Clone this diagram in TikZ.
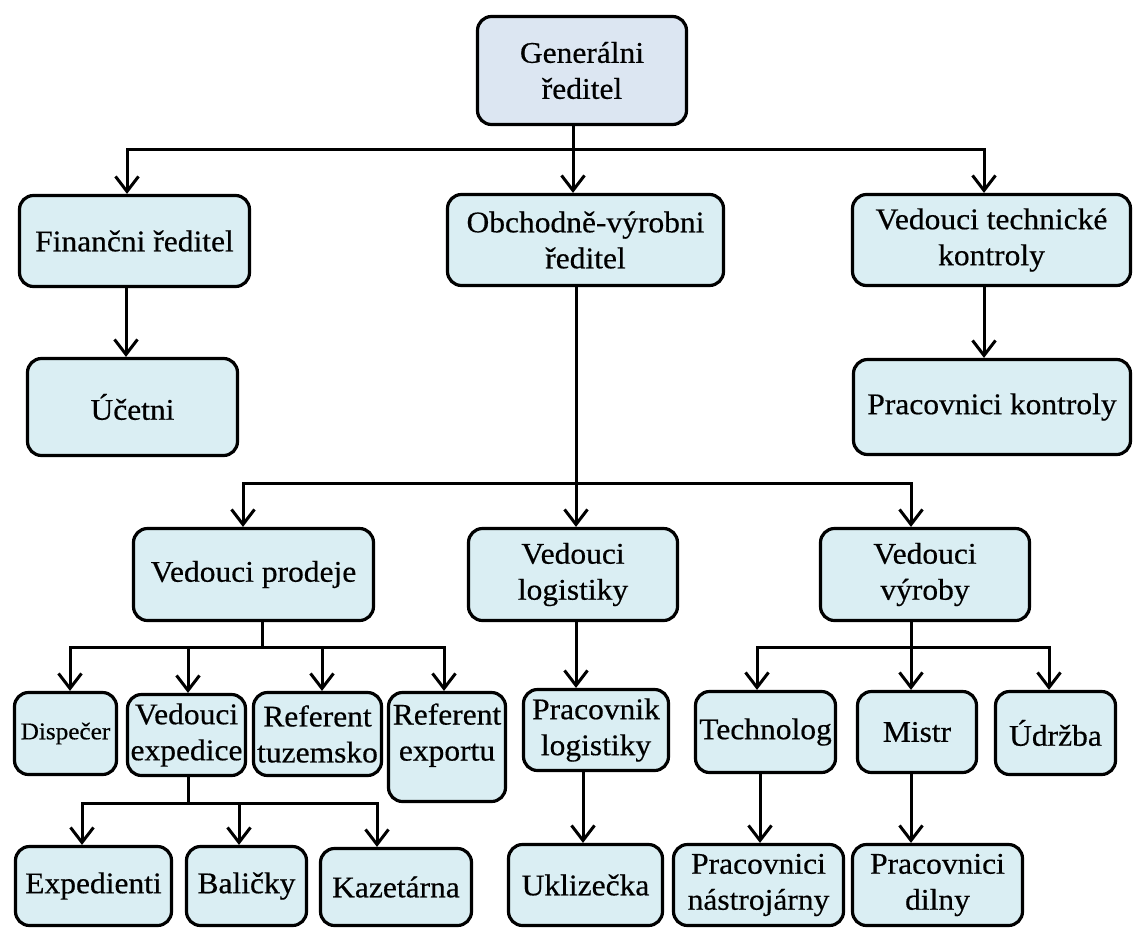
\documentclass[tikz,border=0pt]{standalone}
\usepackage{fontspec}
\setmainfont[FakeStretch=1.05,FakeBold=0.5]{Liberation Serif}
\usetikzlibrary{arrows.meta}
\definecolor{boxfill}{RGB}{218,238,243}
\definecolor{genfill}{RGB}{220,230,242}
\begin{document}
\begin{tikzpicture}[x=1pt,y=-1pt,
  box/.style={draw=black, line width=3.2pt, rounded corners=14pt, fill=boxfill,
    align=center, inner sep=1pt, font=\fontsize{30}{36}\selectfont, text=black},
  arr/.style={line width=3pt, -{Straight Barb[length=15pt,width=23pt]}},
  ln/.style={line width=3pt}]
\useasboundingbox (0,0) rectangle (1134,929);

% level 0
\node[box, fill=genfill, minimum width=209, minimum height=108] (gen) at (582,70.5) {Generálni\\ředitel};
% level 1
\node[box, minimum width=230, minimum height=91] (fin) at (134.5,241) {Finančni ředitel};
\node[box, minimum width=276, minimum height=91] (obch) at (585.5,240) {Obchodně-výrobni\\ředitel};
\node[box, minimum width=278, minimum height=91] (vtk) at (991.5,240) {Vedouci technické\\kontroly};
% level 2
\node[box, minimum width=210, minimum height=97] (uc) at (132.5,407) {Účetni};
\node[box, minimum width=277, minimum height=95] (pk) at (992,407) {Pracovnici kontroly};
% level 3
\node[box, minimum width=240, minimum height=92] (vp) at (253.5,574.5) {Vedouci prodeje};
\node[box, minimum width=209, minimum height=92] (vl) at (573,574.5) {Vedouci\\logistiky};
\node[box, minimum width=209, minimum height=92] (vv) at (925,574.5) {Vedouci\\výroby};
% level 4
\node[box, font=\fontsize{24}{29}\selectfont, minimum width=102, minimum height=82] (dis) at (65.5,733.5) {Dispečer};
\node[box, minimum width=118, minimum height=81] (ve) at (186.5,735) {Vedouci\\expedice};
\node[box, minimum width=128, minimum height=83] (rt) at (317.5,734) {Referent\\tuzemsko};
\node[box, minimum width=117, minimum height=109, text depth=30pt] (re) at (447,747) {Referent\\exportu};
\node[box, minimum width=145, minimum height=81] (plog) at (596,730) {Pracovnik\\logistiky};
\node[box, minimum width=140, minimum height=81] (tech) at (765.5,732) {Technolog};
\node[box, minimum width=119, minimum height=81] (mistr) at (917,732) {Mistr};
\node[box, minimum width=120, minimum height=83] (udr) at (1055.5,733) {Údržba};
% level 5
\node[box, minimum width=156, minimum height=79] (exp) at (93.5,886) {Expedienti};
\node[box, minimum width=120, minimum height=79] (bal) at (246.5,886) {Baličky};
\node[box, minimum width=151, minimum height=77] (kaz) at (396,887) {Kazetárna};
\node[box, minimum width=154, minimum height=81] (ukl) at (585.5,885) {Uklizečka};
\node[box, minimum width=170, minimum height=81] (pn) at (758.5,885) {Pracovnici\\nástrojárny};
\node[box, minimum width=170, minimum height=81] (pd) at (937.5,885) {Pracovnici\\dilny};

% connectors
\coordinate (t1) at (573,149);
\draw[ln] (gen.south -| t1) -- (t1);
\draw[arr] (t1) -- (obch.north -| t1);
\draw[arr] (t1) -| ([xshift=-7.5]fin.north);
\draw[arr] (t1) -| ([xshift=-7.5]vtk.north);
\draw[arr] ([xshift=-8.5]fin.south) -- ([xshift=-6.5]uc.north);
\draw[arr] ([xshift=-7.5]vtk.south) -- ([xshift=-8]pk.north);

\coordinate (t2) at (576,483);
\draw[ln] (obch.south -| t2) -- (t2);
\draw[arr] (t2) -- (vl.north -| t2);
\draw[arr] (t2) -| ([xshift=-10.5]vp.north);
\draw[arr] (t2) -| ([xshift=-14]vv.north);

\coordinate (t3) at (262,647);
\draw[ln] (vp.south -| t3) -- (t3);
\draw[arr] (t3) -| ([xshift=4.5]dis.north);
\draw[arr] (t3) -| ([xshift=1.5]ve.north);
\draw[arr] (t3) -| ([xshift=4.5]rt.north);
\draw[arr] (t3) -| ([xshift=-3]re.north);

\coordinate (t4) at (188,803);
\draw[ln] (ve.south -| t4) -- (t4);
\draw[arr] (t4) -| ([xshift=-11.5]exp.north);
\draw[arr] (t4) -| ([xshift=-7.5]bal.north);
\draw[arr] (t4) -| ([xshift=-19]kaz.north);

\draw[arr] (vl.south -| t2) -- (plog.north -| t2);
\coordinate (c5) at (583,0);
\draw[arr] (plog.south -| c5) -- (ukl.north -| c5);

\coordinate (t5) at (911,647);
\draw[ln] (vv.south -| t5) -- (t5);
\draw[arr] (t5) -| ([xshift=-8.5]tech.north);
\draw[arr] (t5) -- (mistr.north -| t5);
\draw[arr] (t5) -| ([xshift=-6.5]udr.north);
\coordinate (c6) at (760,0);
\draw[arr] (tech.south -| c6) -- (pn.north -| c6);
\draw[arr] (mistr.south -| t5) -- (pd.north -| t5);
\end{tikzpicture}
\end{document}
